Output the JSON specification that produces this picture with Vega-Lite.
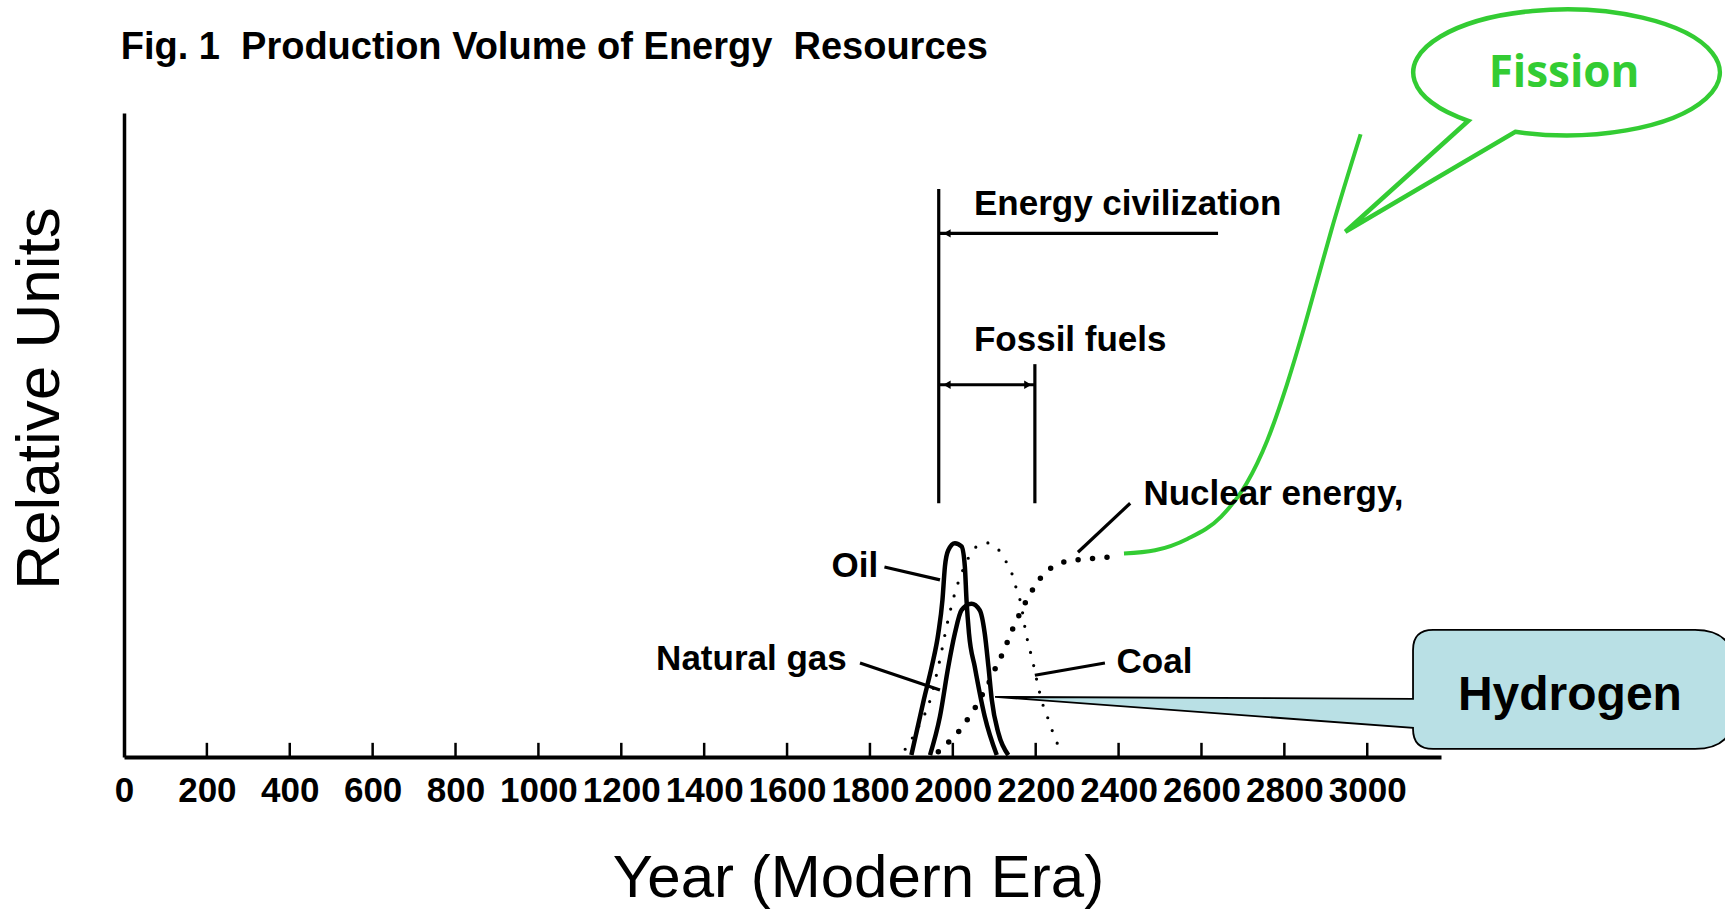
{
  "$schema": "https://vega.github.io/schema/vega-lite/v6.json",
  "width": 1317,
  "height": 644,
  "autosize": {"type": "none"},
  "padding": {"left": 124, "top": 113, "right": 284, "bottom": 155},
  "background": "white",
  "config": {"view": {"stroke": null}, "axis": {"grid": false}},
  "datasets": {
    "oil": [
      {"yr": 1900, "v": 0.3}, {"yr": 1930, "v": 8.9}, {"yr": 1949, "v": 14.0}, {"yr": 1965, "v": 19.2},
      {"yr": 1975, "v": 24.4}, {"yr": 1981, "v": 29.6}, {"yr": 1989, "v": 32.1}, {"yr": 2005, "v": 33.2},
      {"yr": 2021, "v": 32.7}, {"yr": 2029, "v": 29.6}, {"yr": 2033, "v": 24.4}, {"yr": 2039, "v": 19.2},
      {"yr": 2053, "v": 14.0}, {"yr": 2077, "v": 6.3}, {"yr": 2106, "v": 0.3}
    ],
    "gas": [
      {"yr": 1945, "v": 0.3}, {"yr": 1969, "v": 6.3}, {"yr": 1989, "v": 14.0}, {"yr": 2005, "v": 19.2},
      {"yr": 2021, "v": 22.8}, {"yr": 2045, "v": 23.8}, {"yr": 2065, "v": 22.8}, {"yr": 2077, "v": 19.2},
      {"yr": 2086, "v": 14.0}, {"yr": 2094, "v": 8.9}, {"yr": 2110, "v": 3.7}, {"yr": 2134, "v": 0.3}
    ],
    "coal": [
      {"yr": 1885, "v": 1.2}, {"yr": 1909, "v": 3.7}, {"yr": 1925, "v": 5.7}, {"yr": 1941, "v": 8.0},
      {"yr": 1965, "v": 14.0}, {"yr": 1989, "v": 21.4}, {"yr": 2007, "v": 25.9}, {"yr": 2024, "v": 29.0},
      {"yr": 2049, "v": 32.1}, {"yr": 2077, "v": 33.3}, {"yr": 2110, "v": 32.2}, {"yr": 2128, "v": 30.4},
      {"yr": 2143, "v": 28.4}, {"yr": 2153, "v": 26.2}, {"yr": 2164, "v": 23.9}, {"yr": 2176, "v": 19.4},
      {"yr": 2193, "v": 14.8}, {"yr": 2208, "v": 10.4}, {"yr": 2217, "v": 8.2}, {"yr": 2229, "v": 6.1},
      {"yr": 2241, "v": 3.9}, {"yr": 2256, "v": 1.5}
    ],
    "nuclear": [
      {"yr": 1965, "v": 0.8}, {"yr": 1997, "v": 2.8}, {"yr": 2021, "v": 4.5}, {"yr": 2041, "v": 6.4},
      {"yr": 2061, "v": 8.4}, {"yr": 2077, "v": 10.4}, {"yr": 2094, "v": 12.4}, {"yr": 2106, "v": 14.3},
      {"yr": 2122, "v": 16.3}, {"yr": 2136, "v": 18.6}, {"yr": 2150, "v": 20.7}, {"yr": 2166, "v": 22.8},
      {"yr": 2182, "v": 24.8}, {"yr": 2200, "v": 26.7}, {"yr": 2222, "v": 28.6}, {"yr": 2250, "v": 29.8},
      {"yr": 2283, "v": 30.5}, {"yr": 2317, "v": 30.7}, {"yr": 2351, "v": 30.9}, {"yr": 2386, "v": 31.1}
    ],
    "fission": [
      {"yr": 2413, "v": 31.6}, {"yr": 2488, "v": 32.1}, {"yr": 2567, "v": 33.9}, {"yr": 2647, "v": 37.3},
      {"yr": 2708, "v": 42.4}, {"yr": 2759, "v": 49.2}, {"yr": 2806, "v": 57.8}, {"yr": 2846, "v": 66.3},
      {"yr": 2883, "v": 74.8}, {"yr": 2913, "v": 81.7}, {"yr": 2984, "v": 96.7}
    ],
    "ticks": [
      {"yr": 200, "v": 0, "v2": 2.2}, {"yr": 400, "v": 0, "v2": 2.2}, {"yr": 600, "v": 0, "v2": 2.2},
      {"yr": 800, "v": 0, "v2": 2.2}, {"yr": 1000, "v": 0, "v2": 2.2}, {"yr": 1200, "v": 0, "v2": 2.2},
      {"yr": 1400, "v": 0, "v2": 2.2}, {"yr": 1600, "v": 0, "v2": 2.2}, {"yr": 1800, "v": 0, "v2": 2.2},
      {"yr": 2000, "v": 0, "v2": 2.2}, {"yr": 2200, "v": 0, "v2": 2.2}, {"yr": 2400, "v": 0, "v2": 2.2},
      {"yr": 2600, "v": 0, "v2": 2.2}, {"yr": 2800, "v": 0, "v2": 2.2}, {"yr": 3000, "v": 0, "v2": 2.2}
    ],
    "rules": [
      {"yr": 1966, "v": 88.2, "yr2": 1966, "v2": 39.4},
      {"yr": 2198, "v": 61.0, "yr2": 2198, "v2": 39.4},
      {"yr": 1966, "v": 81.3, "yr2": 2640, "v2": 81.3},
      {"yr": 1966, "v": 57.8, "yr2": 2198, "v2": 57.8},
      {"yr": 1835, "v": 29.5, "yr2": 1969, "v2": 27.5},
      {"yr": 1776, "v": 14.6, "yr2": 1969, "v2": 10.4},
      {"yr": 2367, "v": 14.6, "yr2": 2198, "v2": 12.7},
      {"yr": 2428, "v": 39.4, "yr2": 2302, "v2": 31.8}
    ],
    "arrowsLeft": [{"yr": 1986, "v": 81.3}, {"yr": 1986, "v": 57.8}],
    "arrowsRight": [{"yr": 2181, "v": 57.8}],
    "titleText": [{"yr": -8, "v": 108.4, "label": "Fig. 1\u00a0 Production Volume of Energy\u00a0 Resources"}],
    "labelsLeft": [
      {"yr": 2051, "v": 84.2, "label": "Energy civilization"},
      {"yr": 2051, "v": 63.1, "label": "Fossil fuels"},
      {"yr": 2460, "v": 39.1, "label": "Nuclear energy,"},
      {"yr": 2395, "v": 13.0, "label": "Coal"}
    ],
    "labelsRight": [
      {"yr": 1820, "v": 28.0, "label": "Oil"},
      {"yr": 1744, "v": 13.5, "label": "Natural gas"}
    ],
    "fissionBubble": [{"yr": 3478, "v": 106.4}],
    "fissionText": [{"yr": 3475, "v": 104.0, "label": "Fission"}],
    "hydrogenBubble": [{"yr": 3499, "v": 10.5}],
    "hydrogenText": [{"yr": 3489, "v": 7.3, "label": "Hydrogen"}]
  },
  "encoding": {
    "x": {
      "field": "yr",
      "type": "quantitative",
      "scale": {"domain": [0, 3178], "nice": false, "zero": false},
      "axis": {
        "values": [0, 200, 400, 600, 800, 1000, 1200, 1400, 1600, 1800, 2000, 2200, 2400, 2600, 2800, 3000],
        "format": "d",
        "domainColor": "black",
        "domainWidth": 4,
        "ticks": false,
        "labelFont": "Liberation Sans",
        "labelFontWeight": "bold",
        "labelFontSize": 35,
        "labelColor": "black",
        "labelPadding": 16,
        "labelFlush": false,
        "labelOverlap": false,
        "labelBound": false,
        "title": "Year (Modern Era)",
        "titleFont": "Liberation Sans",
        "titleFontSize": 60,
        "titleFontWeight": "normal",
        "titleColor": "black",
        "titleAlign": "center",
        "titleBaseline": "alphabetic",
        "titleX": 734,
        "titleY": 139
      }
    },
    "y": {
      "field": "v",
      "type": "quantitative",
      "scale": {"domain": [0, 100], "nice": false},
      "axis": {
        "ticks": false,
        "labels": false,
        "domainColor": "black",
        "domainWidth": 3.5,
        "title": "Relative Units",
        "titleFont": "Liberation Sans",
        "titleFontSize": 62,
        "titleFontWeight": "normal",
        "titleColor": "black",
        "titleAngle": -90,
        "titleAlign": "center",
        "titleBaseline": "alphabetic",
        "titleX": -66,
        "titleY": 285
      }
    }
  },
  "layer": [
    {
      "data": {"name": "ticks"},
      "mark": {"type": "rule", "color": "black", "strokeWidth": 2.5},
      "encoding": {"y2": {"field": "v2"}}
    },
    {"data": {"name": "coal"}, "mark": {"type": "line", "color": "black", "strokeWidth": 3.2, "strokeDash": [0, 13.5], "strokeCap": "round", "interpolate": "monotone"}},
    {"data": {"name": "nuclear"}, "mark": {"type": "line", "color": "black", "strokeWidth": 5.5, "strokeDash": [0, 14.5], "strokeCap": "round", "interpolate": "monotone"}},
    {"data": {"name": "oil"}, "mark": {"type": "line", "color": "black", "strokeWidth": 4.5, "interpolate": "monotone"}},
    {"data": {"name": "gas"}, "mark": {"type": "line", "color": "black", "strokeWidth": 4.5, "interpolate": "monotone"}},
    {
      "data": {"name": "rules"},
      "mark": {"type": "rule", "color": "black", "strokeWidth": 3.2},
      "encoding": {"x2": {"field": "yr2"}, "y2": {"field": "v2"}}
    },
    {"data": {"name": "arrowsLeft"}, "mark": {"type": "point", "shape": "triangle-left", "size": 70, "filled": true, "color": "black", "opacity": 1}},
    {"data": {"name": "arrowsRight"}, "mark": {"type": "point", "shape": "triangle-right", "size": 70, "filled": true, "color": "black", "opacity": 1}},
    {"data": {"name": "fission"}, "mark": {"type": "line", "color": "#33cc33", "strokeWidth": 4, "interpolate": "monotone"}},
    {
      "data": {"name": "titleText"},
      "mark": {"type": "text", "align": "left", "baseline": "alphabetic", "font": "Liberation Sans", "fontWeight": "bold", "fontSize": 38, "color": "black"},
      "encoding": {"text": {"field": "label"}}
    },
    {
      "data": {"name": "labelsLeft"},
      "mark": {"type": "text", "align": "left", "baseline": "alphabetic", "font": "Liberation Sans", "fontWeight": "bold", "fontSize": 35, "color": "black"},
      "encoding": {"text": {"field": "label"}}
    },
    {
      "data": {"name": "labelsRight"},
      "mark": {"type": "text", "align": "right", "baseline": "alphabetic", "font": "Liberation Sans", "fontWeight": "bold", "fontSize": 35, "color": "black"},
      "encoding": {"text": {"field": "label"}}
    },
    {
      "data": {"name": "fissionBubble"},
      "mark": {"type": "point", "shape": "M -0.50 0.60 A 1.533 0.63 0 1 0 -0.97 0.49 L -2.20 1.60 Z", "size": 40000, "filled": false, "stroke": "#33cc33", "strokeWidth": 4.5, "opacity": 1}
    },
    {
      "data": {"name": "fissionText"},
      "mark": {"type": "text", "align": "center", "baseline": "alphabetic", "font": "Open Sans", "fontWeight": "bold", "fontSize": 44, "color": "#33cc33"},
      "encoding": {"text": {"field": "label"}}
    },
    {
      "data": {"name": "hydrogenBubble"},
      "mark": {"type": "point", "shape": "M -1.41 -0.595 L 1.21 -0.595 Q 1.61 -0.595 1.61 -0.195 L 1.61 0.195 Q 1.61 0.595 1.21 0.595 L -1.41 0.595 Q -1.61 0.595 -1.61 0.395 L -1.61 0.385 L -5.79 0.075 L -1.61 0.095 L -1.61 -0.395 Q -1.61 -0.595 -1.41 -0.595 Z", "size": 40000, "filled": true, "fill": "#b9e0e5", "fillOpacity": 1, "stroke": "black", "strokeWidth": 1.8, "opacity": 1}
    },
    {
      "data": {"name": "hydrogenText"},
      "mark": {"type": "text", "align": "center", "baseline": "alphabetic", "font": "Liberation Sans", "fontWeight": "bold", "fontSize": 48, "color": "black"},
      "encoding": {"text": {"field": "label"}}
    }
  ]
}
